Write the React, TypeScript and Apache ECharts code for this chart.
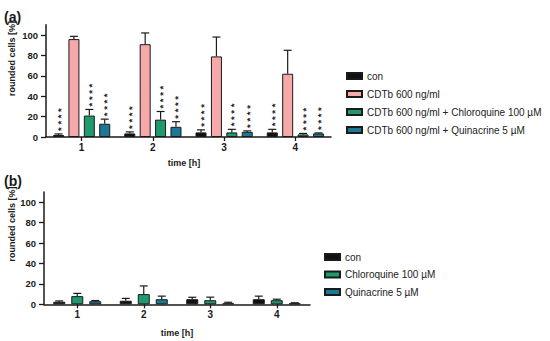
import React, { useEffect, useRef } from "react";
import * as echarts from "echarts";

const categories = ["1", "2", "3", "4"];
const yTicks = [0, 20, 40, 60, 80, 100];

// Panel (a)
const aNames = [
  "con",
  "CDTb 600 ng/ml",
  "CDTb 600 ng/ml + Chloroquine 100 µM",
  "CDTb 600 ng/ml + Quinacrine 5 µM",
];
const aCon = [2, 3.5, 4.5, 4.5];
const aConSd = [1, 1.5, 2.5, 3];
const aCdtb = [96, 91, 79, 62];
const aCdtbSd = [2.7, 11, 19, 23];
const aChloro = [21, 17, 4.5, 2.5];
const aChloroSd = [6, 8, 3, 1];
const aQuin = [13, 10, 5, 3.5];
const aQuinSd = [4.5, 5, 1, 0.5];
const aStars = [true, false, true, true];

// Panel (b)
const bNames = ["con", "Chloroquine 100 µM", "Quinacrine 5 µM"];
const bCon = [2.5, 3.5, 5, 5];
const bConSd = [0.8, 2.3, 1.9, 3];
const bChloro = [8, 10, 4, 4];
const bChloroSd = [2.7, 8, 3, 1];
const bQuin = [3, 5, 1, 1];
const bQuinSd = [0.7, 3, 1, 0.5];

const FONT = "'Liberation Sans', Arial, sans-serif";
const C_BLACK = "#111111";
const C_PINK = "#F7A8A8";
const C_GREEN = "#1E9A6C";
const C_BLUE = "#1B7896";

export default function App() {
  const ref = useRef<HTMLDivElement>(null);
  useEffect(() => {
    document.body.style.margin = "0";
    const chart = echarts.init(ref.current!, null, { renderer: "svg" });

    const aBW = 11;
    const aSpacing = 15.4;
    const bBW = 12;
    const bSpacing = 18;

    const makeBar = (name: string, data: number[], color: string, xi: number, bw: number, gap: string) => ({
      type: "bar",
      name,
      xAxisIndex: xi,
      yAxisIndex: xi,
      data,
      barWidth: bw,
      barGap: gap,
      barCategoryGap: "10%",
      itemStyle: { color, borderColor: "#1a1a1a", borderWidth: 1 },
      z: 2,
    });

    const makeErr = (
      vals: number[],
      sds: number[],
      idx: number,
      n: number,
      spacing: number,
      xi: number,
      stars: boolean
    ) => ({
      type: "custom",
      xAxisIndex: xi,
      yAxisIndex: xi,
      silent: true,
      z: 3,
      itemStyle: { color: "#222222" },
      data: vals.map((v, i) => [i, v, v + sds[i]]),
      renderItem: (params: any, api: any) => {
        const base = api.coord([api.value(0), api.value(1)]);
        const top = api.coord([api.value(0), api.value(2)]);
        const x = base[0] + (idx - (n - 1) / 2) * spacing;
        const children: any[] = [
          {
            type: "line",
            shape: { x1: x, y1: base[1], x2: x, y2: top[1] },
            style: { stroke: "#1a1a1a", lineWidth: 1.2 },
          },
          {
            type: "line",
            shape: { x1: x - 4, y1: top[1], x2: x + 4, y2: top[1] },
            style: { stroke: "#1a1a1a", lineWidth: 1.2 },
          },
        ];
        if (stars) {
          children.push({
            type: "text",
            x: x + 2,
            y: top[1] - 3,
            rotation: Math.PI / 2,
            style: {
              text: "* * * *",
              fontSize: 9.5,
              fontWeight: "bold",
              fontFamily: FONT,
              fill: "#222222",
              align: "left",
              verticalAlign: "middle",
            },
          });
        }
        return { type: "group", children };
      },
    });

    const yAxisCommon = {
      type: "value",
      min: 0,
      max: 110,
      interval: 20,
      splitLine: { show: false },
      axisLine: { show: true, lineStyle: { color: "#1a1a1a", width: 1.5 } },
      axisTick: { show: true, length: 5, lineStyle: { color: "#1a1a1a", width: 1.3 }, customValues: yTicks },
      axisLabel: {
        customValues: yTicks,
        fontSize: 9.5,
        fontWeight: "bold",
        fontFamily: FONT,
        color: "#1a1a1a",
        margin: 8,
      },
    };
    const xAxisCommon = {
      type: "category",
      data: categories,
      axisLine: { show: true, lineStyle: { color: "#1a1a1a", width: 1.5 } },
      axisTick: { show: true, alignWithLabel: true, length: 4, lineStyle: { color: "#1a1a1a", width: 1.3 } },
      axisLabel: { fontSize: 10, fontWeight: "bold", fontFamily: FONT, color: "#1a1a1a", margin: 5 },
    };

    const axisNameStyle = { fontSize: 9, fontWeight: "bold", fontFamily: FONT, fill: "#1a1a1a" };

    chart.setOption({
      animation: false,
      backgroundColor: "#ffffff",
      grid: [
        { left: 46, top: 24.8, width: 285, height: 112.2 },
        { left: 44, top: 192.1, width: 266, height: 112.2 },
      ],
      xAxis: [
        { ...xAxisCommon, gridIndex: 0 },
        { ...xAxisCommon, gridIndex: 1 },
      ],
      yAxis: [
        { ...yAxisCommon, gridIndex: 0 },
        { ...yAxisCommon, gridIndex: 1 },
      ],
      legend: [
        {
          data: aNames,
          orient: "vertical",
          left: 341,
          top: 66,
          itemWidth: 15,
          itemHeight: 6,
          itemGap: 8,
          icon: "rect",
          textStyle: { fontSize: 10, fontFamily: FONT, color: "#222" },
        },
        {
          data: bNames.map((nm) => (nm === "con" ? "con " : nm)),
          orient: "vertical",
          left: 319,
          top: 247,
          itemWidth: 15,
          itemHeight: 6,
          itemGap: 7.5,
          icon: "rect",
          textStyle: { fontSize: 10, fontFamily: FONT, color: "#222" },
          formatter: (nm: string) => nm.trim(),
        },
      ],
      graphic: [
        { type: "text", x: 4, y: 17, style: { text: "(a)", fontSize: 14, fontWeight: "bold", fontFamily: FONT, fill: "#1a1a1a", verticalAlign: "middle" } },
        { type: "text", x: 4, y: 181, style: { text: "(b)", fontSize: 14, fontWeight: "bold", fontFamily: FONT, fill: "#1a1a1a", verticalAlign: "middle" } },
        { type: "text", x: 12, y: 58.5, rotation: Math.PI / 2, style: { ...axisNameStyle, text: "rounded cells [%]", align: "center", verticalAlign: "middle" } },
        { type: "text", x: 12, y: 224, rotation: Math.PI / 2, style: { ...axisNameStyle, text: "rounded cells [%]", align: "center", verticalAlign: "middle" } },
        { type: "text", x: 184, y: 163, style: { ...axisNameStyle, text: "time [h]", align: "center", verticalAlign: "middle" } },
        { type: "text", x: 177, y: 332.5, style: { ...axisNameStyle, text: "time [h]", align: "center", verticalAlign: "middle" } },
      ],
      series: [
        makeBar(aNames[0], aCon, C_BLACK, 0, aBW, "40%"),
        makeBar(aNames[1], aCdtb, C_PINK, 0, aBW, "40%"),
        makeBar(aNames[2], aChloro, C_GREEN, 0, aBW, "40%"),
        makeBar(aNames[3], aQuin, C_BLUE, 0, aBW, "40%"),
        makeErr(aCon, aConSd, 0, 4, aSpacing, 0, aStars[0]),
        makeErr(aCdtb, aCdtbSd, 1, 4, aSpacing, 0, aStars[1]),
        makeErr(aChloro, aChloroSd, 2, 4, aSpacing, 0, aStars[2]),
        makeErr(aQuin, aQuinSd, 3, 4, aSpacing, 0, aStars[3]),
        makeBar("con ", bCon, C_BLACK, 1, bBW, "50%"),
        makeBar(bNames[1], bChloro, C_GREEN, 1, bBW, "50%"),
        makeBar(bNames[2], bQuin, C_BLUE, 1, bBW, "50%"),
        makeErr(bCon, bConSd, 0, 3, bSpacing, 1, false),
        makeErr(bChloro, bChloroSd, 1, 3, bSpacing, 1, false),
        makeErr(bQuin, bQuinSd, 2, 3, bSpacing, 1, false),
      ],
    });
    return () => chart.dispose();
  }, []);
  return (
    <div
      ref={ref}
      style={{ width: 550, height: 341, position: "absolute", left: 0, top: 0 }}
    />
  );
}
